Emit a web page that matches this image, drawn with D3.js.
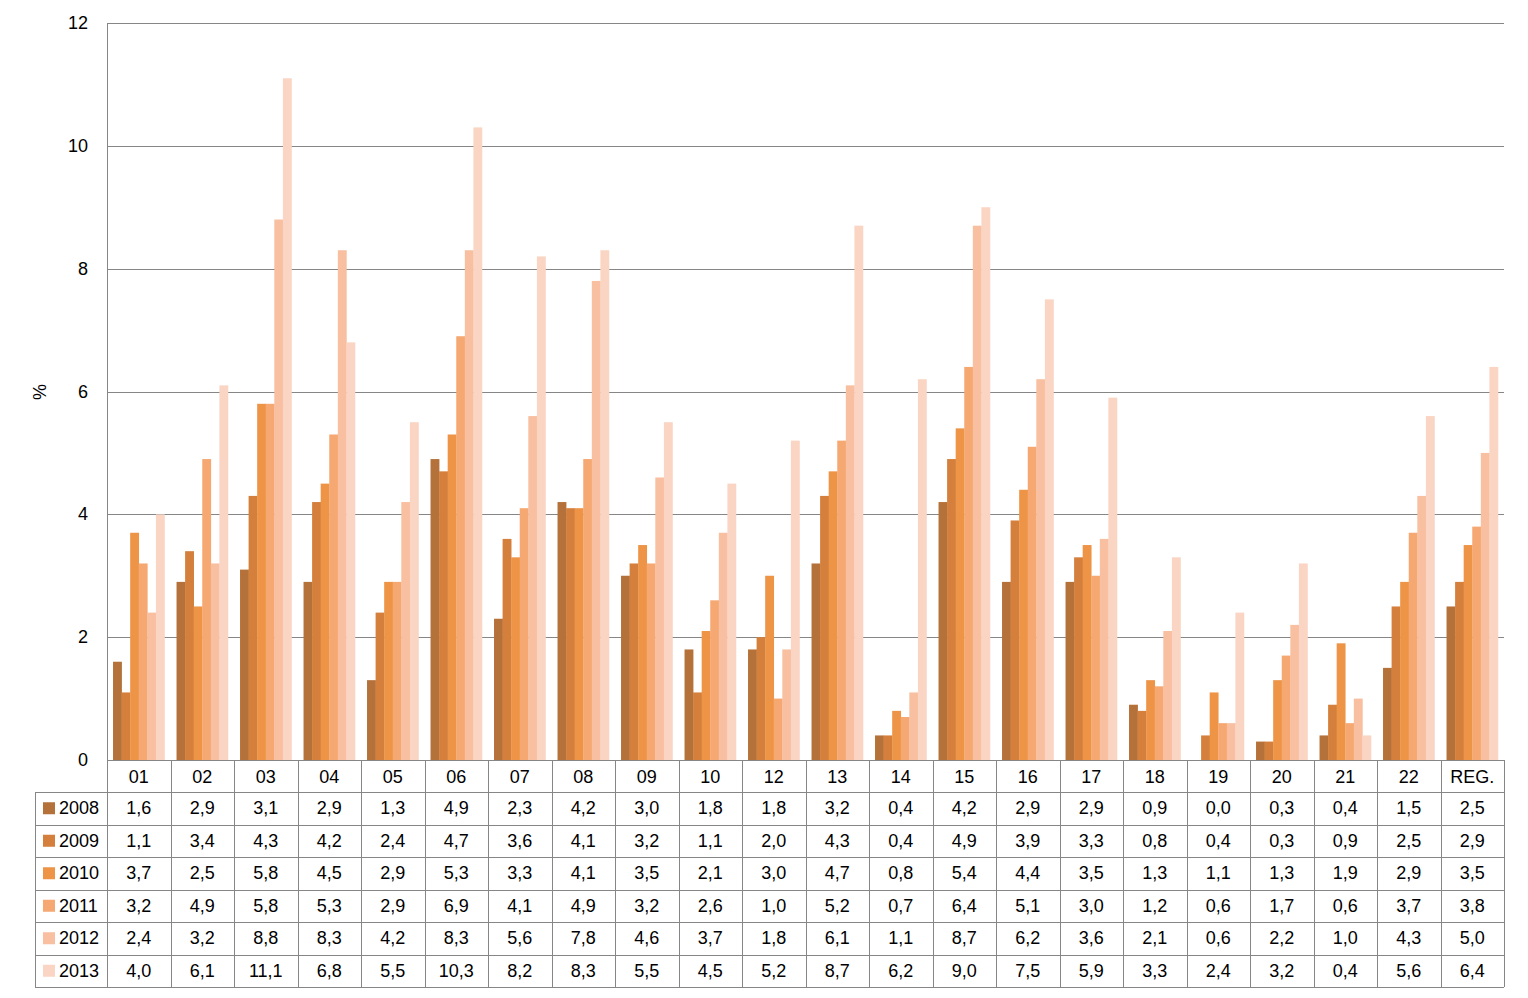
<!DOCTYPE html>
<html>
<head>
<meta charset="utf-8">
<script src="https://cdn.jsdelivr.net/npm/d3@7"></script>
<style>
  body { margin: 0; background: #fff; }
  text { font-family: "Liberation Sans", Arial, sans-serif; fill: #000; }
</style>
</head>
<body>
<svg id="chart" width="1528" height="998"></svg>
<script>
// categories (departments) and yearly series
var categories = ["01","02","03","04","05","06","07","08","09","10","12","13","14","15","16","17","18","19","20","21","22","REG."];
var years = ["2008","2009","2010","2011","2012","2013"];
var v2008 = [1.6,2.9,3.1,2.9,1.3,4.9,2.3,4.2,3.0,1.8,1.8,3.2,0.4,4.2,2.9,2.9,0.9,0.0,0.3,0.4,1.5,2.5];
var v2009 = [1.1,3.4,4.3,4.2,2.4,4.7,3.6,4.1,3.2,1.1,2.0,4.3,0.4,4.9,3.9,3.3,0.8,0.4,0.3,0.9,2.5,2.9];
var v2010 = [3.7,2.5,5.8,4.5,2.9,5.3,3.3,4.1,3.5,2.1,3.0,4.7,0.8,5.4,4.4,3.5,1.3,1.1,1.3,1.9,2.9,3.5];
var v2011 = [3.2,4.9,5.8,5.3,2.9,6.9,4.1,4.9,3.2,2.6,1.0,5.2,0.7,6.4,5.1,3.0,1.2,0.6,1.7,0.6,3.7,3.8];
var v2012 = [2.4,3.2,8.8,8.3,4.2,8.3,5.6,7.8,4.6,3.7,1.8,6.1,1.1,8.7,6.2,3.6,2.1,0.6,2.2,1.0,4.3,5.0];
var v2013 = [4.0,6.1,11.1,6.8,5.5,10.3,8.2,8.3,5.5,4.5,5.2,8.7,6.2,9.0,7.5,5.9,3.3,2.4,3.2,0.4,5.6,6.4];
var series = [v2008, v2009, v2010, v2011, v2012, v2013];
var yTicks = [0,2,4,6,8,10,12];
var colors = ["#b5713a","#d47f3c","#ed9447","#f6a872","#f8bfa0","#fad5c3"];

var svg = d3.select("#chart");
var plotLeft = 107, plotRight = 1504, plotTop = 23, plotBottom = 760;
var tableLeft = 35, rowH = 32.5, headerH = 32;
var gridColor = "#868686";

var x = d3.scaleBand().domain(categories).range([plotLeft, plotRight]);
// bars occupy about 80% of a band, no gaps between years
var xi = d3.scaleBand().domain(years)
  .range([x.bandwidth() * 0.095, x.bandwidth() * 0.905]);
var y = d3.scaleLinear().domain([0, 12]).range([plotBottom, plotTop]);

// gridlines
svg.append("g").selectAll("line").data(yTicks.filter(function(d){ return d > 0; }))
  .enter().append("line")
  .attr("x1", plotLeft).attr("x2", plotRight)
  .attr("y1", function(d){ return Math.round(y(d)) + 0.5; })
  .attr("y2", function(d){ return Math.round(y(d)) + 0.5; })
  .attr("stroke", gridColor).attr("stroke-width", 1);

// y axis line
svg.append("line").attr("x1", plotLeft + 0.5).attr("x2", plotLeft + 0.5)
  .attr("y1", plotTop).attr("y2", plotBottom)
  .attr("stroke", gridColor);

// y tick labels
svg.append("g").selectAll("text").data(yTicks).enter().append("text")
  .attr("x", 88).attr("y", function(d){ return y(d) + 6; })
  .attr("text-anchor", "end").attr("font-size", 18)
  .text(function(d){ return d; });

svg.append("text").attr("transform", "translate(46,392) rotate(-90)")
  .attr("text-anchor", "middle").attr("font-size", 18).text("%");

// bars
var groups = svg.append("g").selectAll("g").data(categories).enter().append("g")
  .attr("transform", function(d){ return "translate(" + x(d) + ",0)"; });
groups.selectAll("rect").data(function(d, i){
    return years.map(function(yr, j){ return { year: yr, value: series[j][i], k: j }; });
  }).enter().append("rect")
  .attr("x", function(d){ return xi(d.year); })
  .attr("width", xi.bandwidth() + 0.3)
  .attr("y", function(d){ return y(d.value); })
  .attr("height", function(d){ return plotBottom - y(d.value); })
  .attr("fill", function(d){ return colors[d.k]; });

// table lines
var tableTop = plotBottom + headerH;
var tableBottom = tableTop + rowH * years.length;
var tl = svg.append("g").attr("stroke", gridColor).attr("stroke-width", 1);
tl.append("line").attr("x1", plotLeft).attr("x2", plotRight)
  .attr("y1", plotBottom + 0.5).attr("y2", plotBottom + 0.5);
d3.range(years.length + 1).forEach(function(r){
  var yy = Math.round(tableTop + r * rowH) + 0.5;
  tl.append("line").attr("x1", tableLeft).attr("x2", plotRight).attr("y1", yy).attr("y2", yy);
});
tl.append("line").attr("x1", tableLeft + 0.5).attr("x2", tableLeft + 0.5)
  .attr("y1", tableTop).attr("y2", tableBottom);
categories.concat([null]).forEach(function(c){
  var xx = Math.round(c ? x(c) : plotRight) + 0.5;
  tl.append("line").attr("x1", xx).attr("x2", xx).attr("y1", plotBottom).attr("y2", tableBottom);
});

// header labels
svg.append("g").selectAll("text").data(categories).enter().append("text")
  .attr("x", function(d){ return x(d) + x.bandwidth() / 2; })
  .attr("y", plotBottom + 23).attr("text-anchor", "middle").attr("font-size", 18)
  .text(function(d){ return d; });

// rows
years.forEach(function(yr, j){
  var cy = tableTop + j * rowH + rowH / 2;
  svg.append("rect").attr("x", 43).attr("y", cy - 6).attr("width", 12).attr("height", 12)
    .attr("fill", colors[j]);
  svg.append("text").attr("x", 59).attr("y", cy + 6).attr("font-size", 18).text(yr);
  svg.append("g").selectAll("text").data(series[j]).enter().append("text")
    .attr("x", function(d, i){ return x(categories[i]) + x.bandwidth() / 2; })
    .attr("y", cy + 6).attr("text-anchor", "middle").attr("font-size", 18)
    .text(function(d){ return d.toFixed(1).replace(".", ","); });
});
</script>
</body>
</html>
